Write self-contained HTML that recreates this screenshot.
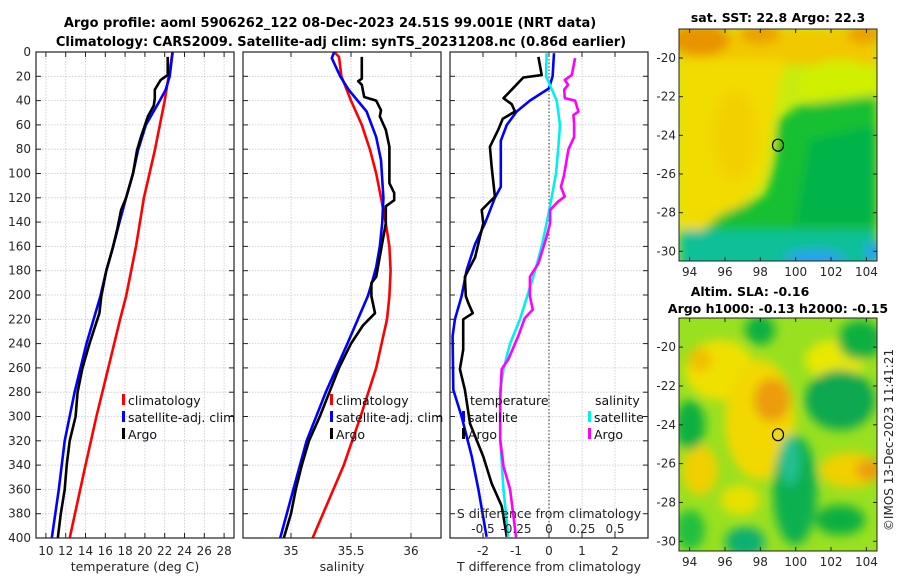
<!DOCTYPE html>
<html><head><meta charset="utf-8"><style>
html,body{margin:0;padding:0;background:#fff;}
svg{display:block;font-family:"DejaVu Sans","Liberation Sans",sans-serif;}
</style></head><body>
<svg id="fig" width="900" height="580" viewBox="0 0 900 580" xmlns="http://www.w3.org/2000/svg">
<defs>
<filter id="blur" x="-20%" y="-20%" width="140%" height="140%"><feGaussianBlur stdDeviation="5"/></filter>
<clipPath id="clipSST"><rect x="679" y="29" width="198" height="232"/></clipPath>
<clipPath id="clipSLA"><rect x="679" y="318" width="198" height="233"/></clipPath>
</defs>
<text x="330" y="27" text-anchor="middle" font-size="13" font-weight="bold" fill="#000">Argo profile: aoml 5906262_122 08-Dec-2023 24.51S 99.001E (NRT data)</text>
<text x="341" y="46" text-anchor="middle" font-size="13" font-weight="bold" fill="#000">Climatology: CARS2009. Satellite-adj clim: synTS_20231208.nc (0.86d earlier)</text>

<!-- SST map -->
<g clip-path="url(#clipSST)">
<rect x="679" y="29" width="198" height="232" fill="#c8ec10"/>
<g filter="url(#blur)">
<rect x="679" y="29" width="198" height="36" fill="#f2c800"/>
<ellipse cx="700" cy="40" rx="30" ry="16" fill="#e89400"/>
<ellipse cx="760" cy="34" rx="20" ry="10" fill="#eca000"/>
<ellipse cx="865" cy="34" rx="18" ry="10" fill="#eca000"/>
<ellipse cx="700" cy="85" rx="20" ry="20" fill="#eea800"/>
<ellipse cx="840" cy="85" rx="40" ry="25" fill="#d0f000"/>
<path d="M679 60 L785 60 L775 110 L765 175 L740 212 L700 232 L679 228 Z" fill="#f2dc00"/>
<ellipse cx="735" cy="135" rx="22" ry="45" fill="#f2d000"/>
<path d="M778 120 L800 105 L877 95 L877 261 L679 261 L679 250 L720 215 L765 195 L775 160 Z" fill="#18c030"/>
<path d="M810 140 L877 125 L877 225 L795 225 Z" fill="#00b448"/>
<rect x="679" y="230" width="198" height="40" fill="#10c098"/>
<ellipse cx="815" cy="258" rx="30" ry="8" fill="#2aa0f0"/>
<ellipse cx="875" cy="252" rx="10" ry="10" fill="#2aa0f0"/>
</g>
</g>
<rect x="679" y="29" width="198" height="232" fill="none" stroke="#222" stroke-width="1"/>
<text x="778" y="22" text-anchor="middle" font-size="12.5" font-weight="bold">sat. SST: 22.8 Argo: 22.3</text>

<!-- SLA map -->
<g clip-path="url(#clipSLA)">
<rect x="679" y="318" width="198" height="233" fill="#98e020"/>
<g filter="url(#blur)">
<ellipse cx="720" cy="370" rx="35" ry="30" fill="#f0e000"/>
<ellipse cx="760" cy="420" rx="35" ry="60" fill="#f2d800"/>
<ellipse cx="772" cy="400" rx="18" ry="22" fill="#ec9c10"/>
<ellipse cx="700" cy="360" rx="12" ry="12" fill="#f0c000"/>
<ellipse cx="700" cy="470" rx="18" ry="25" fill="#f0d000"/>
<ellipse cx="835" cy="360" rx="30" ry="20" fill="#e8e800"/>
<ellipse cx="850" cy="470" rx="30" ry="18" fill="#f0d000"/>
<ellipse cx="870" cy="470" rx="14" ry="10" fill="#ec9a10"/>
<ellipse cx="740" cy="500" rx="20" ry="15" fill="#e8e000"/>
<ellipse cx="760" cy="330" rx="15" ry="15" fill="#10b040"/>
<ellipse cx="860" cy="340" rx="22" ry="20" fill="#10b040"/>
<ellipse cx="840" cy="400" rx="35" ry="30" fill="#10a850"/>
<ellipse cx="690" cy="425" rx="15" ry="25" fill="#10b040"/>
<ellipse cx="795" cy="490" rx="22" ry="55" fill="#10b050"/>
<ellipse cx="790" cy="460" rx="10" ry="25" fill="#20c090"/>
<ellipse cx="745" cy="542" rx="20" ry="15" fill="#10b070"/>
<ellipse cx="840" cy="520" rx="25" ry="15" fill="#10b040"/>
<ellipse cx="690" cy="530" rx="15" ry="20" fill="#20c040"/>
</g>
</g>
<rect x="679" y="318" width="198" height="233" fill="none" stroke="#222" stroke-width="1"/>
<text x="750" y="296" text-anchor="middle" font-size="12.5" font-weight="bold">Altim. SLA: -0.16</text>
<text x="778" y="313" text-anchor="middle" font-size="12.5" font-weight="bold">Argo h1000: -0.13 h2000: -0.15</text>
<text transform="translate(893,440) rotate(-90)" text-anchor="middle" font-size="12" fill="#262626">©IMOS 13-Dec-2023 11:41:21</text>
</svg>
<script>
// ---- data ----
const tClimDepth = [0,40,81,120,160,201,220,260,300,340,400];
const tClimVal   = [22.8,22.0,21.0,19.9,19.1,18.1,17.5,16.3,15.1,14.0,12.4];
const tSatDepth = [0,20,31,40,60,81,100,120,141,160,180,201,240,280,320,360,400];
const tSatVal   = [22.8,22.5,22.1,21.5,20.1,19.3,18.8,18.1,17.4,16.8,16.1,15.5,14.1,12.9,11.9,11.3,10.6];
const tArgoDepth = [4,19,23,31,38,44,53,70,81,100,120,130,146,163,180,201,215,240,260,280,300,320,340,360,380,400];
const tArgoVal   = [22.3,22.3,21.6,21.0,21.0,20.9,20.3,19.6,19.2,18.8,18.1,17.6,17.2,16.7,16.1,15.6,15.4,14.4,13.7,13.2,13.0,12.4,12.1,11.9,11.5,11.2];
const sClimDepth = [0,4,20,40,60,81,100,120,141,160,180,201,220,260,300,340,400];
const sClimVal   = [35.36,35.40,35.42,35.50,35.59,35.66,35.71,35.75,35.79,35.82,35.83,35.82,35.80,35.71,35.58,35.44,35.18];
const sSatDepth = [0,5,20,31,49,70,89,120,141,160,177,188,201,240,280,320,360,400];
const sSatVal   = [35.36,35.34,35.41,35.48,35.63,35.71,35.75,35.77,35.76,35.74,35.71,35.68,35.64,35.47,35.29,35.13,35.02,34.91];
const sArgoDepth = [4,22,24,27,37,40,48,53,64,78,108,116,122,127,141,163,185,190,201,215,225,240,260,280,300,320,340,360,380,400];
const sArgoVal   = [35.59,35.59,35.56,35.59,35.61,35.71,35.75,35.74,35.79,35.82,35.82,35.86,35.86,35.79,35.79,35.75,35.71,35.67,35.67,35.70,35.60,35.50,35.40,35.32,35.24,35.15,35.09,35.04,35.00,34.94];
const dtSatDepth = [1,20,30,40,49,60,73,111,120,141,158,180,201,220,234,278,300,333,360,399];
const dtSatVal   = [0.15,0.11,0,-0.58,-0.98,-1.28,-1.46,-1.46,-1.64,-1.94,-2.24,-2.5,-2.65,-2.85,-2.92,-2.9,-2.65,-2.34,-2.14,-1.89];
const dtArgoDepth = [4,19,21,31,38,43,49,55,64,78,94,119,130,141,152,169,185,201,207,215,220,245,261,278,306,333,355,374,399];
const dtArgoVal   = [-0.32,-0.22,-0.78,-1.13,-1.38,-1.13,-1.03,-1.4,-1.54,-1.79,-1.74,-1.64,-2.04,-1.99,-2.09,-2.24,-2.55,-2.52,-2.44,-2.31,-2.6,-2.6,-2.7,-2.55,-2.39,-1.99,-1.74,-1.43,-1.28];
const dsSatDepth = [1,20,40,60,80,100,120,141,160,180,201,220,240,261,278,319,360,399];
const dsSatVal   = [-0.018,-0.022,0.058,0.083,0.07,0.053,0.02,-0.018,-0.055,-0.105,-0.165,-0.22,-0.295,-0.345,-0.37,-0.37,-0.345,-0.308];
const dsArgoDepth = [5,19,23,27,31,38,40,49,52,59,70,80,102,111,119,123,130,141,152,174,185,201,212,219,234,253,261,286,319,341,360,399];
const dsArgoVal   = [0.198,0.173,0.12,0.145,0.115,0.12,0.198,0.223,0.185,0.19,0.19,0.148,0.113,0.09,0.12,0.07,0.008,0.008,-0.018,-0.08,-0.145,-0.145,-0.123,-0.183,-0.233,-0.308,-0.358,-0.37,-0.37,-0.345,-0.295,-0.25];
const depthTicks = [0,20,40,60,80,100,120,140,160,180,200,220,240,260,280,300,320,340,360,380,400];
const tTicks = [10,12,14,16,18,20,22,24,26,28];
const sTicks = [35,35.5,36];
const sTickLabels = ["35","35.5","36"];
const dTTicks = [-2,-1,0,1,2];
const dSTicks = [-0.5,-0.25,0,0.25,0.5];
const dSTickLabels = ["-0.5","-0.25","0","0.25","0.5"];
const lonTicks = [94,96,98,100,102,104];
const latTicks = [-20,-22,-24,-26,-28,-30];
const argoLon = 99.0, argoLat = -24.51;

// ---- drawing ----
const NS = "http://www.w3.org/2000/svg";
const svg = document.getElementById("fig");
function mk(tag, attrs, parent){const e=document.createElementNS(NS,tag);for(const k in attrs)e.setAttribute(k,attrs[k]);(parent||svg).appendChild(e);return e;}
const Y0 = 52, Y1 = 538;
function yDepth(d){return Y0 + d/400*(Y1-Y0);}
function xScale(p, v){return p.x0 + (v-p.min)/(p.max-p.min)*(p.x1-p.x0);}
const P1 = {x0:36,x1:234,min:9,max:29};
const P2 = {x0:243,x1:441,min:34.6,max:36.25};
const P3 = {x0:450,x1:648,min:-3,max:3};
const P3S = {x0:450,x1:648,min:-0.75,max:0.75};

function panel(p, name, xticks, xlabels, xtitle){
  const g = mk("g",{});
  
  
  for(const d of depthTicks){
    const l = mk("line",{x1:p.x0,x2:p.x1,y1:yDepth(d),y2:yDepth(d),stroke:"#c4c8dc","stroke-width":0.8,"stroke-dasharray":"1.5,1.5"},g);
    
    
    mk("line",{x1:p.x0,x2:p.x0+5,y1:yDepth(d),y2:yDepth(d),stroke:"#222"},g);
    mk("line",{x1:p.x1-5,x2:p.x1,y1:yDepth(d),y2:yDepth(d),stroke:"#222"},g);
  }
  xticks.forEach((v,i)=>{
    const x = xScale(p,v);
    const l = mk("line",{x1:x,x2:x,y1:Y0,y2:Y1,stroke:"#c4c8dc","stroke-width":0.8,"stroke-dasharray":"1.5,1.5"},g);
    
    
    mk("line",{x1:x,x2:x,y1:Y1-5,y2:Y1,stroke:"#222"},g);
    mk("line",{x1:x,x2:x,y1:Y0,y2:Y0+5,stroke:"#222"},g);
    if(xlabels){
      const t = mk("text",{x:x,y:Y1+17,"text-anchor":"middle","font-size":12,fill:"#262626"},g);
      t.textContent = xlabels[i];
      
      
    }
  });
  const t = mk("text",{x:(p.x0+p.x1)/2,y:Y1+33,"text-anchor":"middle","font-size":12.5,fill:"#262626"});
  t.textContent = xtitle;
  
  
  return g;
}
function series(p, depths, vals, color, name){
  const pts = depths.map((d,i)=>xScale(p,vals[i]).toFixed(1)+","+yDepth(d).toFixed(1)).join(" ");
  const l = mk("polyline",{points:pts,fill:"none",stroke:color,"stroke-width":2.6,"stroke-linejoin":"round"});
  
  
}
function frame(p,name){
  const r = mk("rect",{x:p.x0,y:Y0,width:p.x1-p.x0,height:Y1-Y0,fill:"none",stroke:"#222","stroke-width":1.2});
  
  
}
function legendItem(x,y,color,label){
  const b = mk("rect",{x:x,y:y-6,width:3,height:11,fill:color});
  
  
  const t = mk("text",{x:x+6,y:y+5,"font-size":12.5,fill:"#111"});
  t.textContent = label;
  
  
}

for(const d of depthTicks){
  const t = mk("text",{x:31,y:yDepth(d)+4,"text-anchor":"end","font-size":12,fill:"#262626"});
  t.textContent = d;
  
  
}

panel(P1,"temperature-panel",tTicks,tTicks.map(String),"temperature (deg C)");
series(P1,tClimDepth,tClimVal,"#ff0000","temp-climatology-line");
series(P1,tSatDepth,tSatVal,"#0000ff","temp-satellite-line");
series(P1,tArgoDepth,tArgoVal,"#000000","temp-argo-line");
frame(P1,"temperature-axes");
legendItem(122,400,"#ff0000","climatology");
legendItem(122,417,"#0000ff","satellite-adj. clim");
legendItem(122,434,"#000000","Argo");

panel(P2,"salinity-panel",sTicks,sTickLabels,"salinity");
series(P2,sClimDepth,sClimVal,"#ff0000","sal-climatology-line");
series(P2,sSatDepth,sSatVal,"#0000ff","sal-satellite-line");
series(P2,sArgoDepth,sArgoVal,"#000000","sal-argo-line");
frame(P2,"salinity-axes");
legendItem(330,400,"#ff0000","climatology");
legendItem(330,417,"#0000ff","satellite-adj. clim");
legendItem(330,434,"#000000","Argo");

panel(P3,"difference-panel",dTTicks,dTTicks.map(String),"T difference from climatology");
const zl = mk("line",{x1:xScale(P3,0),x2:xScale(P3,0),y1:Y0,y2:Y1,stroke:"#333","stroke-width":1,"stroke-dasharray":"1.5,2"});


series(P3,dtSatDepth,dtSatVal,"#0000ff","dt-satellite-line");
series(P3,dtArgoDepth,dtArgoVal,"#000000","dt-argo-line");
series(P3S,dsSatDepth,dsSatVal,"#00f0f0","ds-satellite-line");
series(P3S,dsArgoDepth,dsArgoVal,"#ff00ff","ds-argo-line");
frame(P3,"difference-axes");
dSTicks.forEach((v,i)=>{
  const t = mk("text",{x:xScale(P3S,v),y:533,"text-anchor":"middle","font-size":12,fill:"#262626"});
  t.textContent = dSTickLabels[i];
  
  
});
{
  const t = mk("text",{x:549,y:518,"text-anchor":"middle","font-size":12.5,fill:"#262626"});
  t.textContent = "S difference from climatology";
  
  
  const h1 = mk("text",{x:470,y:405,"font-size":12.5,fill:"#111"});
  h1.textContent = "temperature";
  
  
  const h2 = mk("text",{x:595,y:405,"font-size":12.5,fill:"#111"});
  h2.textContent = "salinity";
  
  
}
legendItem(462,417,"#0000ff","satellite");
legendItem(462,434,"#000000","Argo");
legendItem(588,417,"#00f0f0","satellite");
legendItem(588,434,"#ff00ff","Argo");

function mapAxes(box, name){
  const lon = v => box.x0 + (v-93.4)/(104.6-93.4)*(box.x1-box.x0);
  const lat = v => box.yT + (v-(-18.5))/(-30.5-(-18.5))*(box.yB-box.yT);
  lonTicks.forEach(v=>{
    mk("line",{x1:lon(v),x2:lon(v),y1:box.yB-4,y2:box.yB,stroke:"#222"});
    mk("line",{x1:lon(v),x2:lon(v),y1:box.yT,y2:box.yT+4,stroke:"#222"});
    const t = mk("text",{x:lon(v),y:box.yB+15,"text-anchor":"middle","font-size":12,fill:"#262626"});
    t.textContent = v;
    
    
  });
  latTicks.forEach(v=>{
    mk("line",{x1:box.x0,x2:box.x0+4,y1:lat(v),y2:lat(v),stroke:"#222"});
    mk("line",{x1:box.x1-4,x2:box.x1,y1:lat(v),y2:lat(v),stroke:"#222"});
    const t = mk("text",{x:box.x0-3,y:lat(v)+4,"text-anchor":"end","font-size":12,fill:"#262626"});
    t.textContent = v;
    
    
  });
  const c = mk("ellipse",{cx:lon(argoLon),cy:lat(argoLat),rx:5.5,ry:6,fill:"none",stroke:"#000","stroke-width":1.2});
  
  
}
mapAxes({x0:679,x1:877,yT:29,yB:261},"sst-map");
mapAxes({x0:679,x1:877,yT:318,yB:551},"sla-map");
</script>
</body></html>
